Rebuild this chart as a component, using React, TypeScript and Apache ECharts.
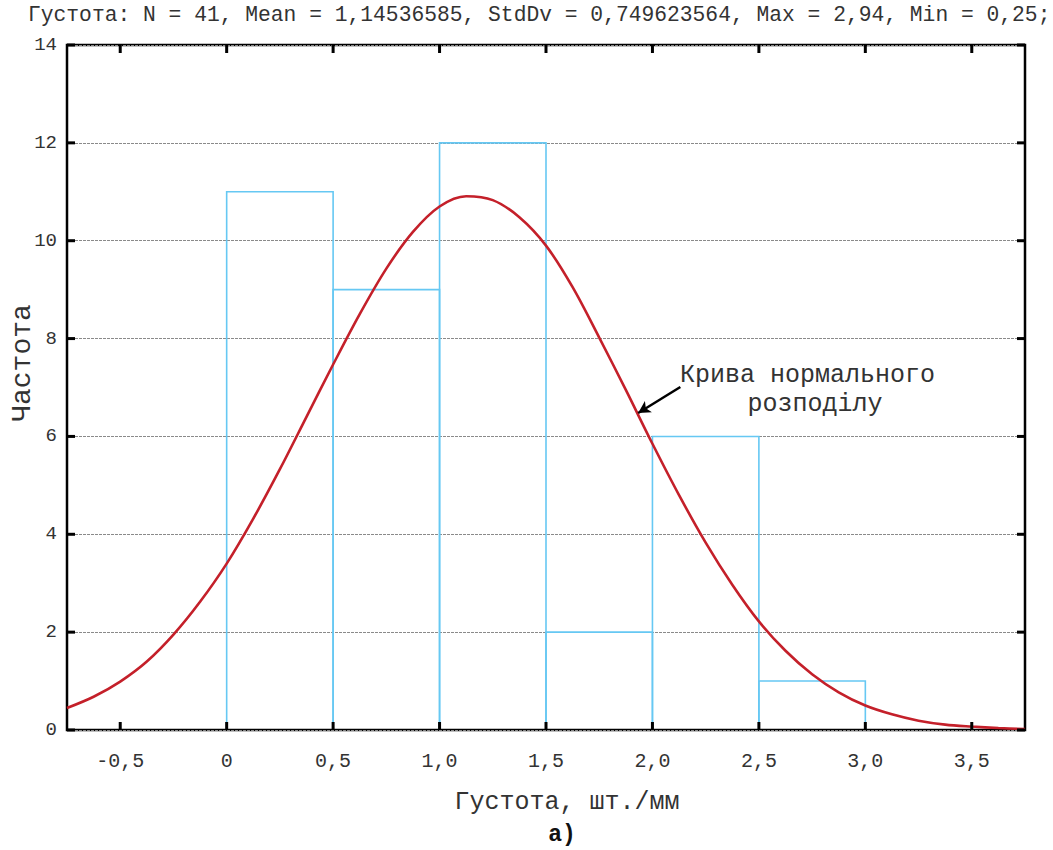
import React, { useEffect, useRef } from "react";
import * as echarts from "echarts";

// Histogram bins (start, end) and counts
const binStarts = [0, 0.5, 1.0, 1.5, 2.0, 2.5];
const binEnds = [0.5, 1.0, 1.5, 2.0, 2.5, 3.0];
const binCounts = [11, 9, 12, 2, 6, 1];

// Normal-distribution curve, points
const curveX = [
  -0.75, -0.625, -0.5, -0.375, -0.25, -0.125, 0, 0.125, 0.25, 0.375, 0.5, 0.625, 0.75, 0.875,
  1.0, 1.125, 1.25, 1.375, 1.5, 1.625, 1.75, 1.875, 2.0, 2.125, 2.25, 2.375, 2.5, 2.625, 2.75,
  2.875, 3.0, 3.125, 3.25, 3.375, 3.5, 3.625, 3.75,
];
const curveY = [
  0.45, 0.68, 0.99, 1.4, 1.95, 2.62, 3.4, 4.32, 5.33, 6.4, 7.47, 8.5, 9.43, 10.18,
  10.7, 10.91, 10.83, 10.48, 9.9, 9.05, 8.02, 6.95, 5.85, 4.8, 3.83, 2.97, 2.22, 1.62, 1.14,
  0.77, 0.5, 0.32, 0.19, 0.11, 0.07, 0.04, 0.02,
];

const xTicks = [-0.5, 0, 0.5, 1.0, 1.5, 2.0, 2.5, 3.0, 3.5];
const yTicks = [0, 2, 4, 6, 8, 10, 12, 14];

const titleText = "Густота: N = 41, Mean = 1,14536585, StdDv = 0,749623564, Max = 2,94, Min = 0,25;";
const xName = "Густота, шт./мм";
const yName = "Частота";
const annotation1 = "Крива нормального";
const annotation2 = "розподілу";
const subLabel = "а)";

// arrow from label to curve (data coords)
const arrowFrom = [2.131, 7.01];
const arrowTo = [1.933, 6.48];

const MONO = "'Liberation Mono', 'DejaVu Sans Mono', monospace";

export default function App() {
  const ref = useRef<HTMLDivElement>(null);
  useEffect(() => {
    if (!ref.current) return;
    const chart = echarts.init(ref.current, null, { renderer: "svg" });
    const fmt = (v: number) => (v === 0 ? "0" : v.toFixed(1).replace(".", ","));
    const noLine = { show: false, onZero: false };
    const X_MIN = -0.75;
    const X_MAX = 3.75;
    const Y_MIN = 0;
    const Y_MAX = 14;
    const textGraphics: any[] = [
      { type: "text", x: 28, y: 15, style: { text: titleText, font: `21.3px ${MONO}`, fill: "#333", verticalAlign: "middle" } },
      { type: "text", x: 567, y: 802, style: { text: xName, font: `25px ${MONO}`, fill: "#333", align: "center", verticalAlign: "middle" } },
      { type: "text", x: 562, y: 835, style: { text: subLabel, font: `bold 23px ${MONO}`, fill: "#111", align: "center", verticalAlign: "middle" } },
      { type: "text", x: 22, y: 363, rotation: Math.PI / 2, style: { text: yName, font: `28px ${MONO}`, fill: "#333", align: "center", verticalAlign: "middle" } },
      { type: "text", x: 680, y: 375, style: { text: annotation1, font: `25px ${MONO}`, fill: "#333", align: "left", verticalAlign: "middle" } },
      { type: "text", x: 815, y: 404, style: { text: annotation2, font: `25px ${MONO}`, fill: "#333", align: "center", verticalAlign: "middle" } },
    ];
    chart.setOption({
      animation: false,
      backgroundColor: "#fff",
      grid: { left: 67, right: 28, top: 45, bottom: 120, show: true, borderColor: "#000", borderWidth: 2.5, backgroundColor: "transparent" },
      xAxis: [
        {
          type: "value",
          min: X_MIN,
          max: X_MAX,
          position: "bottom",
          axisLine: noLine,
          axisTick: { show: false },
          axisLabel: { customValues: xTicks, formatter: fmt, margin: 21, fontFamily: MONO, fontSize: 20, color: "#333" },
          splitLine: { show: false },
        },
      ],
      yAxis: [
        {
          type: "value",
          min: Y_MIN,
          max: Y_MAX,
          interval: 2,
          position: "left",
          axisLine: noLine,
          axisTick: { show: false },
          axisLabel: { margin: 10, fontFamily: MONO, fontSize: 19, color: "#333" },
          splitLine: { show: true, lineStyle: { color: "#8a8a8a", width: 1, type: [3, 1] } },
        },
      ],
      series: [
        {
          type: "custom",
          data: binCounts.map((c, i) => [binStarts[i], binEnds[i], c]),
          renderItem: (params: any, api: any) => {
            const p0 = api.coord([api.value(0), api.value(2)]);
            const p1 = api.coord([api.value(1), 0]);
            return {
              type: "polyline",
              shape: { points: [[p0[0], p1[1]], [p0[0], p0[1]], [p1[0], p0[1]], [p1[0], p1[1]]] },
              style: { fill: "none", stroke: "#66c8f3", lineWidth: 1.6 },
            };
          },
          z: 2,
        },
        {
          type: "line",
          data: curveX.map((x, i) => [x, curveY[i]]),
          smooth: 0.33,
          showSymbol: false,
          symbol: "none",
          lineStyle: { color: "#c4202a", width: 2.6 },
          z: 3,
          markLine: {
            silent: true,
            symbol: ["none", "arrow"],
            symbolSize: [10, 12],
            label: { show: false },
            lineStyle: { color: "#000", width: 2.5, type: "solid" },
            data: [[{ coord: arrowFrom }, { coord: arrowTo }]],
          },
        },
      ],
      graphic: textGraphics,
    });

    // inward tick marks on all four sides, positioned through the axes' scales
    const TL = 8;
    const TW = 3;
    const ticks: any[] = [];
    xTicks.forEach((v) => {
      const pb = chart.convertToPixel({ gridIndex: 0 }, [v, Y_MIN]) as number[];
      const pt = chart.convertToPixel({ gridIndex: 0 }, [v, Y_MAX]) as number[];
      ticks.push({ type: "rect", z: 100, shape: { x: pb[0] - TW / 2, y: pb[1] - TL, width: TW, height: TL }, style: { fill: "#000" } });
      ticks.push({ type: "rect", z: 100, shape: { x: pt[0] - TW / 2, y: pt[1], width: TW, height: TL }, style: { fill: "#000" } });
    });
    yTicks.forEach((v) => {
      const pl = chart.convertToPixel({ gridIndex: 0 }, [X_MIN, v]) as number[];
      const pr = chart.convertToPixel({ gridIndex: 0 }, [X_MAX, v]) as number[];
      ticks.push({ type: "rect", z: 100, shape: { x: pl[0], y: pl[1] - TW / 2, width: TL, height: TW }, style: { fill: "#000" } });
      ticks.push({ type: "rect", z: 100, shape: { x: pr[0] - TL, y: pr[1] - TW / 2, width: TL, height: TW }, style: { fill: "#000" } });
    });
    chart.setOption({ graphic: [...textGraphics, ...ticks] });

    return () => chart.dispose();
  }, []);
  return <div ref={ref} style={{ width: 1053, height: 850, position: "absolute", left: 0, top: 0 }} />;
}
